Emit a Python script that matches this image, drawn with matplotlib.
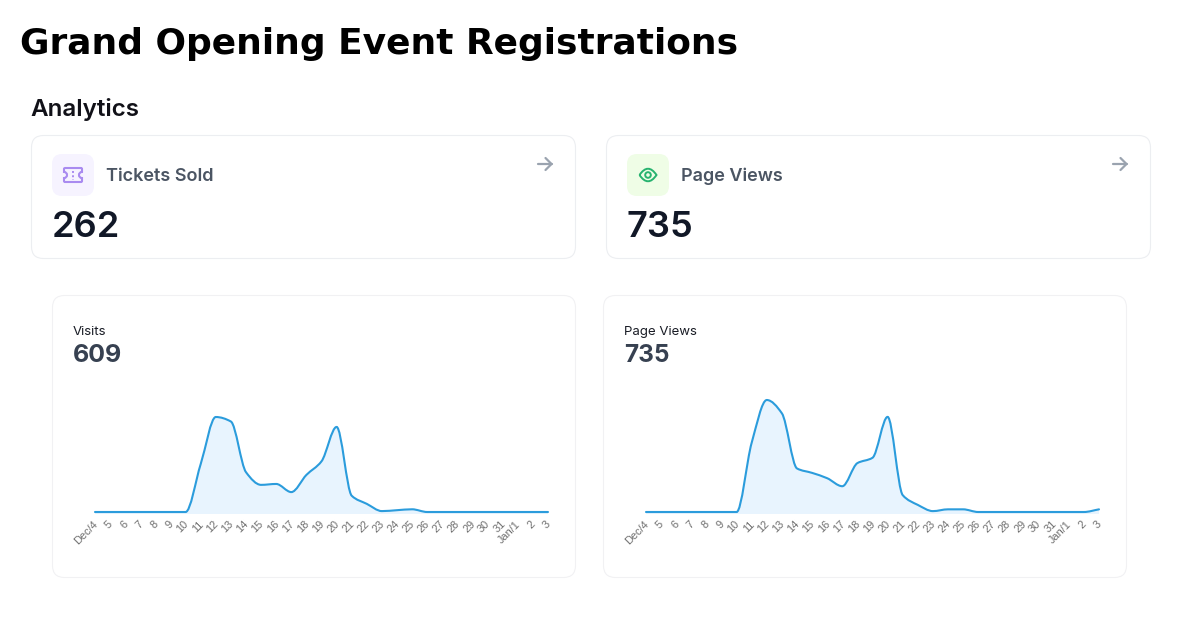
import numpy as np
import matplotlib
matplotlib.use("Agg")
import matplotlib.pyplot as plt
from matplotlib.patches import FancyBboxPatch, Circle, PathPatch
from matplotlib.path import Path
from matplotlib.transforms import ScaledTranslation

W, H = 1188, 633

date_labels = ["Dec/4", "5", "6", "7", "8", "9", "10", "11", "12", "13", "14", "15", "16", "17", "18",
               "19", "20", "21", "22", "23", "24", "25", "26", "27", "28", "29", "30", "31", "Jan/1", "2", "3"]

visits = [0, 0, 0, 0, 0, 0, 0, 53, 105, 100, 44, 30, 31, 22, 41, 56, 94, 18, 9, 1, 2, 3,
          0, 0, 0, 0, 0, 0, 0, 0, 0]
page_views = [0, 0, 0, 0, 0, 0, 0, 78, 126, 111, 49, 44, 38, 29, 55, 61, 107, 19, 8, 1, 3, 3,
              0, 0, 0, 0, 0, 0, 0, 0, 3]

LINE = "#2b9cdc"
FILL = "#e8f4fe"
BORDER = "#eceef1"
SOFT_BORDER = "#f1f1f3"


def round_box(ax, x0, y0, x1, y1, r, face="white", edge=BORDER, lw=0.8):
    ax.add_patch(FancyBboxPatch((x0 + r, y0 + r), x1 - x0 - 2 * r, y1 - y0 - 2 * r,
                                boxstyle=f"round,pad={r},rounding_size={r}",
                                fc=face, ec=edge, lw=lw))


def monotone_path(x, y):
    # monotone cubic through the points, returned as bezier segments
    x = np.asarray(x, float)
    y = np.asarray(y, float)
    h = np.diff(x)
    s = np.diff(y) / h
    m = np.zeros(len(x))
    for i in range(1, len(x) - 1):
        if s[i - 1] * s[i] > 0:
            m[i] = 2 * s[i - 1] * s[i] / (s[i - 1] + s[i])
    m[0] = s[0]
    m[-1] = s[-1]
    verts = [(x[0], y[0])]
    codes = [Path.MOVETO]
    for i in range(len(x) - 1):
        verts += [(x[i] + h[i] / 3, y[i] + m[i] * h[i] / 3),
                  (x[i + 1] - h[i] / 3, y[i + 1] - m[i + 1] * h[i] / 3),
                  (x[i + 1], y[i + 1])]
        codes += [Path.CURVE4] * 3
    return verts, codes


def area_chart(left, right, top, bottom, values, peak_top):
    # top / bottom are pixel rows of the plot box, zero sits 2px above bottom
    ax = fig.add_axes([left / W, 1 - bottom / H, (right - left) / W, (bottom - top) / H])
    ax.patch.set_alpha(0)
    xs = np.arange(len(values))
    zero_row = 512.0
    per_px = max(values) / (zero_row - peak_top)
    ax.set_xlim(0, len(values) - 1)
    ax.set_ylim(-(bottom - zero_row) * per_px, (zero_row - top) * per_px)

    verts, codes = monotone_path(xs, values)
    y_floor = ax.get_ylim()[0]
    fill_verts = verts + [(xs[-1], y_floor), (xs[0], y_floor), (xs[0], values[0])]
    fill_codes = codes + [Path.LINETO, Path.LINETO, Path.CLOSEPOLY]
    ax.add_patch(PathPatch(Path(fill_verts, fill_codes), fc=FILL, ec="none"))
    ax.add_patch(PathPatch(Path(verts, codes), fc="none", ec=LINE, lw=1.5, capstyle="round",
                           clip_on=False))

    for side in ax.spines.values():
        side.set_visible(False)
    ax.set_yticks([])
    ax.set_xticks(xs)
    ax.set_xticklabels(date_labels, rotation=45, ha="right", va="top", rotation_mode="anchor",
                       fontsize=7.9, color="#6e6e6e", family="Liberation Sans")
    ax.tick_params(axis="x", length=0, pad=3.5)
    # tick_params resets the label transforms, so the nudge goes in after it
    shift = ScaledTranslation(-2.5 / 100, 0, fig.dpi_scale_trans)
    for lab in ax.get_xticklabels():
        lab.set_transform(lab.get_transform() + shift)
    return ax


fig = plt.figure(figsize=(W / 100, H / 100), dpi=100, facecolor="white")

# page layer in pixel coordinates
page = fig.add_axes([0, 0, 1, 1])
page.set_xlim(0, W)
page.set_ylim(H, 0)
page.axis("off")

page.text(20, 54, "Grand Opening Event Registrations", fontsize=25.9, fontweight="bold",
          family="DejaVu Sans", color="black")
page.text(30.5, 116, "Analytics", fontsize=17.4, fontweight="semibold", family="Inter", color="#111118")

# stat cards
round_box(page, 31.5, 135.5, 575.5, 258.5, 12)
round_box(page, 606.5, 135.5, 1150.5, 258.5, 12)

round_box(page, 52, 154, 94, 196, 10, face="#f6f3ff", edge="none", lw=0)
round_box(page, 627, 154, 669, 196, 10, face="#effde6", edge="none", lw=0)

# ticket icon
tk = "#a98bf0"
l, r, t, b = 64, 82, 168, 182
mid = (t + b) / 2
ticket = Path([(l + 1, t), (r - 1, t), (r, t), (r, t + 1), (r, t + 4), (r - 3, t + 4), (r - 3, mid),
               (r - 3, b - 4), (r, b - 4), (r, b - 1), (r, b), (r - 1, b), (l + 1, b), (l, b), (l, b - 1),
               (l, b - 4), (l + 3, b - 4), (l + 3, mid), (l + 3, t + 4), (l, t + 4), (l, t + 1), (l, t),
               (l + 1, t)],
              [Path.MOVETO, Path.LINETO, Path.CURVE3, Path.CURVE3, Path.LINETO, Path.CURVE3, Path.CURVE3,
               Path.CURVE3, Path.CURVE3, Path.LINETO, Path.CURVE3, Path.CURVE3, Path.LINETO, Path.CURVE3,
               Path.CURVE3, Path.LINETO, Path.CURVE3, Path.CURVE3, Path.CURVE3, Path.CURVE3, Path.LINETO,
               Path.CURVE3, Path.CURVE3])
page.add_patch(PathPatch(ticket, fc="none", ec=tk, lw=1.5))
page.plot([73, 73], [170.5, 180], color=tk, lw=1.4, ls=(0, (1, 1.2)))

# eye icon
gr = "#27b36f"
cx, cy = 648, 175
eye = Path([(cx - 8.5, cy), (cx, cy - 12.6), (cx + 8.5, cy), (cx, cy + 12.6), (cx - 8.5, cy)],
           [Path.MOVETO, Path.CURVE3, Path.CURVE3, Path.CURVE3, Path.CURVE3])
page.add_patch(PathPatch(eye, fc="none", ec=gr, lw=1.4))
page.add_patch(Circle((cx, cy), 2.8, fc="none", ec=gr, lw=1.4))

# arrows in the card corners
for ax0 in (538, 1113):
    page.plot([ax0, ax0 + 13.5], [164, 164], color="#9aa3af", lw=1.6, solid_capstyle="round")
    page.plot([ax0 + 7.5, ax0 + 13.5, ax0 + 7.5], [158, 164, 170], color="#9aa3af", lw=1.6,
              solid_capstyle="round", solid_joinstyle="round")

page.text(106.5, 181, "Tickets Sold", fontsize=13, fontweight="semibold", family="Inter", color="#4b5563")
page.text(681, 181, "Page Views", fontsize=13, fontweight="semibold", family="Inter", color="#4b5563")
page.text(52, 237, "262", fontsize=26, fontweight="semibold", family="Inter", color="#111827")
page.text(627, 237, "735", fontsize=26, fontweight="semibold", family="Inter", color="#111827")

# chart cards
round_box(page, 52.5, 295.5, 575.5, 577.5, 12, edge=SOFT_BORDER)
round_box(page, 603.5, 295.5, 1126.5, 577.5, 12, edge=SOFT_BORDER)

page.text(73, 335, "Visits", fontsize=9.5, family="Inter", color="#1a1d26")
page.text(73, 362, "609", fontsize=18, fontweight="bold", family="Inter", color="#374151")
page.text(624.5, 335, "Page Views", fontsize=9.5, family="Inter", color="#1a1d26")
page.text(624.5, 362, "735", fontsize=17.5, fontweight="bold", family="Inter", color="#374151")

area_chart(95, 548, 390, 514, visits, 417)
area_chart(646, 1099, 390, 514, page_views, 400)

fig.savefig("out.png", dpi=100, facecolor="white")
